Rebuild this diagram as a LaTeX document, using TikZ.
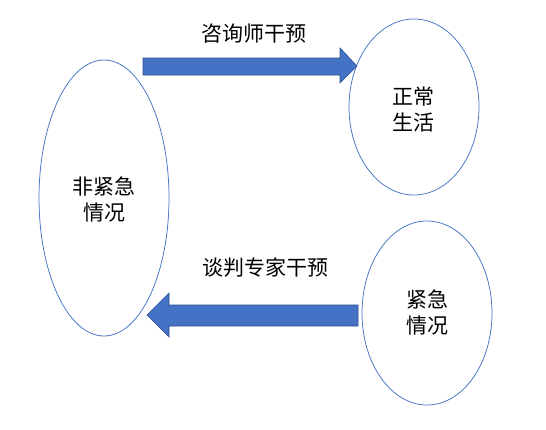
\documentclass[tikz,border=0pt]{standalone}
\usepackage{fontspec}
\setmainfont{Noto Sans CJK SC}
\definecolor{ofblue}{HTML}{4472C4}
\definecolor{ofdark}{HTML}{2F528F}
\begin{document}
\begin{tikzpicture}[x=1pt,y=-1pt,
  oval/.style={draw=ofblue,line width=0.75pt,fill=white},
  lbl/.style={font=\fontsize{21}{26}\selectfont,align=center,inner sep=0pt},
  blockarrow/.style={fill=ofblue,draw=ofdark,line width=0.6pt}]
\useasboundingbox (0,0) rectangle (546,429);
\fill[white] (0,0) rectangle (546,429);
% ellipses
\draw[oval] (104,198) ellipse [x radius=65,y radius=138];
\draw[oval] (414,107) ellipse [x radius=65,y radius=88];
\draw[oval] (427,313) ellipse [x radius=65,y radius=92];
\node[lbl] (nonurgent) at (104,199) {非紧急\\情况};
\node[lbl] (normal) at (413,109) {正常\\生活};
\node[lbl] (urgent) at (427,312) {紧急\\情况};
% block arrows
\draw[blockarrow] (143,58) -- (340,58) -- (340,48) -- (357,66) -- (340,83) -- (340,75) -- (143,75) -- cycle;
\draw[blockarrow] (358,305) -- (169,305) -- (169,293) -- (147,315) -- (169,337) -- (169,326) -- (358,326) -- cycle;
\node[lbl] (counsel) at (254,34) {咨询师干预};
\node[lbl] (negot) at (265,268) {谈判专家干预};
\end{tikzpicture}
\end{document}
